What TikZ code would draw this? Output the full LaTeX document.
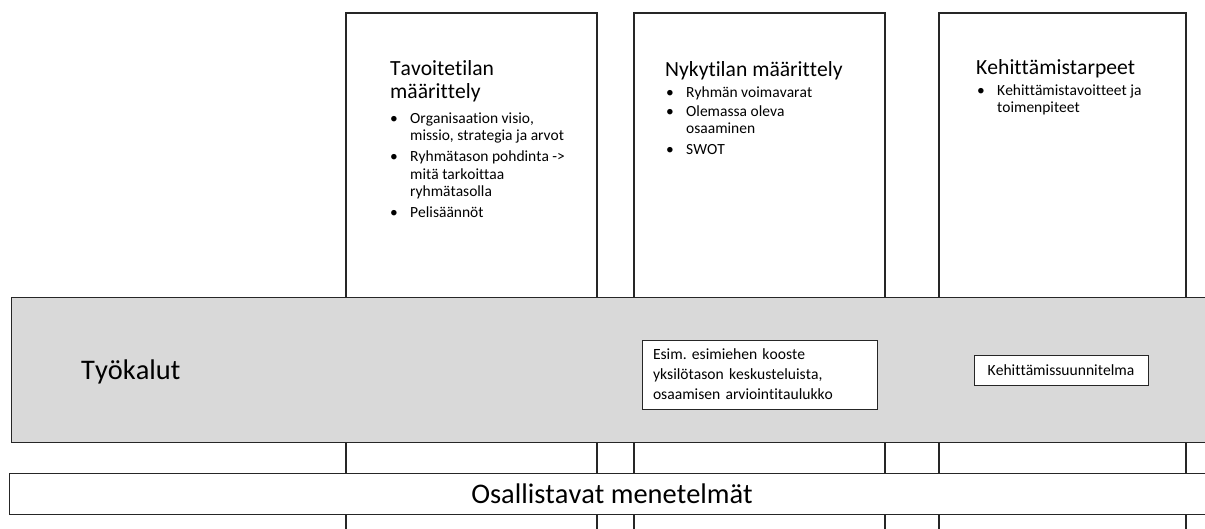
\documentclass[tikz,border=0pt]{standalone}
\usepackage{fontspec}
\setmainfont{Carlito}[Ligatures={NoCommon}, Kerning=Off]
\usetikzlibrary{positioning}
\definecolor{bandgray}{HTML}{D9D9D9}
\definecolor{edgegray}{HTML}{262626}
\frenchspacing

\begin{document}
\begin{tikzpicture}[x=1pt, y=-1pt,
        column/.style={draw=edgegray, line width=1.1pt, fill=white},
        band/.style={draw=edgegray, line width=1.1pt, inner sep=0pt, anchor=north west},
        coltitle/.style={font=\fontsize{21.6}{23}\selectfont, anchor=base west, inner sep=0pt},
        bullets/.style={font=\fontsize{15.5}{17.5}\selectfont, anchor=base west, inner sep=0pt},
        toolbox/.style={draw=edgegray, line width=1pt, fill=white, font=\fontsize{15.6}{20}\selectfont, inner sep=0pt},
        biglabel/.style={font=\fontsize{28.4}{32}\selectfont, anchor=base, inner sep=0pt}]
        \useasboundingbox (0,0) rectangle (1205,528);
        \clip (0,0) rectangle (1205,528);

        % Columns
        \draw[column] (346,13) rectangle (597,540);
        \draw[column] (634,13) rectangle (885,540);
        \draw[column] (939,13) rectangle (1186,540);

        % Tavoitetila
        \node[coltitle] (goal-title) at (390,75) {\begin{tabular}[t]{@{}l@{}}Tavoitetilan\\määrittely\end{tabular}};
        \node[bullets] (goal-list) at (390,123) {\begin{tabular}[t]{@{}p{20pt}@{}l@{}}
            \textbullet & Organisaation visio,\\
                        & missio, strategia ja arvot\\[3.5pt]
            \textbullet & Ryhmätason pohdinta ->\\
                        & mitä tarkoittaa\\
                        & ryhmätasolla\\[3pt]
            \textbullet & Pelisäännöt
        \end{tabular}};

        % Nykytila
        \node[coltitle] (now-title) at (665,76) {Nykytilan määrittely};
        \node[bullets] (now-list) at (666,97) {\begin{tabular}[t]{@{}p{20pt}@{}l@{}}
            \textbullet & Ryhmän voimavarat\\[1.5pt]
            \textbullet & Olemassa oleva\\
                        & osaaminen\\[3.5pt]
            \textbullet & SWOT
        \end{tabular}};

        % Kehittamistarpeet
        \node[coltitle] (need-title) at (976,74) {Kehittämistarpeet};
        \node[bullets] (need-list) at (977,95) {\begin{tabular}[t]{@{}p{20pt}@{}l@{}}
            \textbullet & Kehittämistavoitteet ja\\
                        & toimenpiteet
        \end{tabular}};

        % Tools band
        \node[band, fill=bandgray, minimum width=1204pt, minimum height=145pt] (tools-band) at (11,297) {};
        \node[biglabel, anchor=base west] (tools) at (81,379) {Työkalut};
        \node[toolbox, text width=213pt, minimum height=69pt, inner xsep=11pt, align=left] (summary) at (759.5,374.5)
            {Esim. esimiehen kooste\\yksilötason keskusteluista,\\osaamisen arviointitaulukko};
        \node[toolbox, minimum width=174pt, minimum height=30pt] (plan) at (1061,370) {Kehittämissuunnitelma};

        % Participatory methods
        \node[band, fill=white, minimum width=1206pt, minimum height=41pt] (methods-bar) at (9,473) {};
        \node[biglabel] (methods) at (612,503) {Osallistavat menetelmät};
\end{tikzpicture}
\end{document}
